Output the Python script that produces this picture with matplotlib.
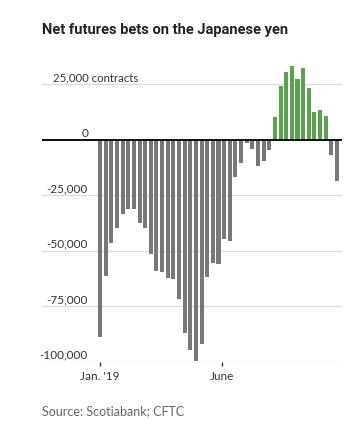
"""Net futures bets on the Japanese yen, weekly CFTC positioning, 2019."""

import matplotlib

matplotlib.use("Agg")
import matplotlib.dates as mdates  # noqa: E402
import matplotlib.pyplot as plt  # noqa: E402
import pandas as pd  # noqa: E402

# weekly net positions (contracts), first report Jan. 1, 2019
FIRST_WEEK = "2019-01-01"
NET_CONTRACTS = [
    -88600, -61100, -46300, -39500, -33200, -31200, -30900, -37200, -39500,
    -51200, -58900, -59300, -62000, -62500, -71500, -86800, -94500, -99400,
    -91800, -61600, -55300, -55700, -44600, -45500, -16500, -10200, -1350,
    -3900, -11600, -9300, -4400, 10400, 24300, 30600, 33300, 27500, 32400,
    23400, 12600, 13500, 10800, -6600, -18300,
]
Y_TICKS = [25000, 0, -25000, -50000, -75000, -100000]
Y_LABELS = ["25,000 contracts", "0", "-25,000", "-50,000", "-75,000", "-100,000"]
X_TICKS = ["2019-01-01", "2019-06-01"]
X_LABELS = ["Jan. '19", "June"]

TITLE = "Net futures bets on the Japanese yen"
SOURCE = "Source: Scotiabank; CFTC"

GRAY = "#787878"
GREEN = "#5ba150"
GRID = "#dcdcdc"
TEXT = "#333333"
LABEL_FONT = ["Lato", "DejaVu Sans"]

weeks = pd.date_range(FIRST_WEEK, periods=len(NET_CONTRACTS), freq="7D")
colors = [GREEN if v > 0 else GRAY for v in NET_CONTRACTS]

W, H = 358, 435
fig = plt.figure(figsize=(W / 100, H / 100), dpi=100)
ax = fig.add_axes([42 / W, (H - 363) / H, 300 / W, 302 / H])

ax.bar(weeks, NET_CONTRACTS, width=5, color=colors, zorder=2)

# ~0.806 px per day, Jan. 1 sits 58 px in from the left edge of the rules
x0 = mdates.date2num(pd.Timestamp(X_TICKS[0]))
ax.set_xlim(x0 - 72, x0 - 72 + 300 / 0.806)
ax.set_ylim(-100000, 36000)

for spine in ax.spines.values():
    spine.set_visible(False)

# horizontal rules, zero line in black
for y in Y_TICKS:
    if y == 0:
        ax.axhline(0, color="#111111", lw=1.4, zorder=3)
    else:
        ax.axhline(y, color=GRID, lw=1, zorder=1)

# value labels sit on top of their rules at the left
ax.set_yticks([])
trans = ax.get_yaxis_transform()
for y, lab in zip(Y_TICKS, Y_LABELS):
    if y == Y_TICKS[0]:
        ax.text(11 / 300, y + 1000, lab, transform=trans, ha="left", va="bottom",
                fontsize=8.2, color=TEXT, family=LABEL_FONT)
    else:
        ax.text(46 / 300, y + 1000, lab, transform=trans, ha="right", va="bottom",
                fontsize=8.5, color=TEXT, family=LABEL_FONT)

ax.set_xticks([mdates.date2num(pd.Timestamp(d)) for d in X_TICKS])
ax.set_xticklabels(X_LABELS, fontsize=8.5, color=TEXT, family=LABEL_FONT)
ax.tick_params(axis="x", length=3, width=1, color="#333333", pad=3)

fig.text(42 / W, 1 - 30 / H, TITLE, fontsize=10.5, fontweight="bold",
         color="#222222", family=["Roboto", "DejaVu Sans"], va="center")
fig.text(42 / W, 1 - 411 / H, SOURCE, fontsize=9, color="#666666",
         family=LABEL_FONT, va="center")

fig.savefig("out.png", dpi=100)
